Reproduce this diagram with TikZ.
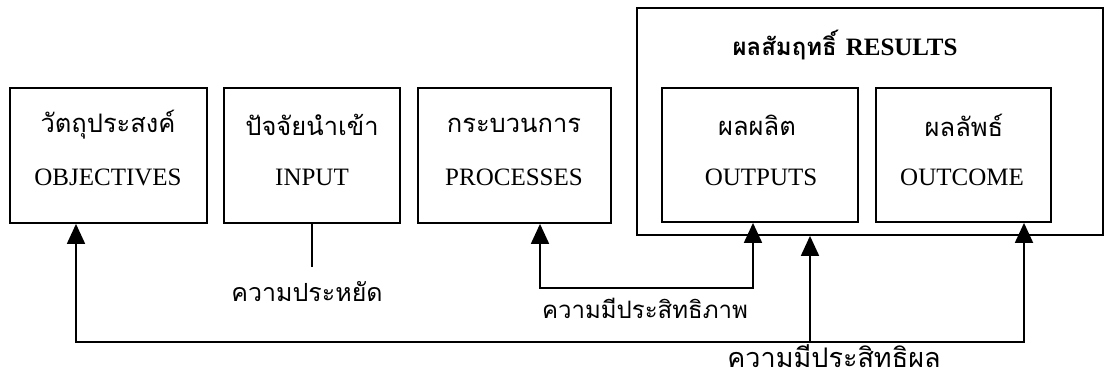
\documentclass[tikz,border=0pt]{standalone}
\usepackage{fontspec}
\setmainfont{Liberation Serif}
\newfontfamily\thaifont[Script=Thai]{Loma}
\usetikzlibrary{arrows.meta}
\begin{document}
\begin{tikzpicture}[x=1pt,y=-1pt,
  box/.style={draw=black,line width=1.8pt,inner sep=0pt},
  th/.style={font=\thaifont\fontsize{25.5}{28}\selectfont,inner sep=0pt},
  en/.style={font=\fontsize{25}{28}\selectfont,inner sep=0pt},
  lnk/.style={draw=black,line width=1.8pt},
  arr/.style={lnk,-{Triangle[length=20pt,width=18pt]}}]
\useasboundingbox (0,0) rectangle (1106,379);
% boxes
\node[box,minimum width=197pt,minimum height=135pt] (obj) at (108.5,155.5) {};
\node[box,minimum width=176pt,minimum height=135pt] (inp) at (312,155.5) {};
\node[box,minimum width=193pt,minimum height=135pt] (proc) at (514.5,155.5) {};
\node[box,minimum width=466pt,minimum height=227pt] (res) at (870,121.5) {};
\node[box,minimum width=196pt,minimum height=134pt] (outp) at (760,155) {};
\node[box,minimum width=175pt,minimum height=134pt] (outc) at (963.5,155) {};
% texts
\node[th] (objT) at (108,125) {วัตถุประสงค์};
\node[en] (objE) at (108,177) {OBJECTIVES};
\node[th] (inpT) at (312,125) {ปัจจัยนำเข้า};
\node[en] (inpE) at (312,177) {INPUT};
\node[th] (procT) at (514,125) {กระบวนการ};
\node[en] (procE) at (514,177) {PROCESSES};
\node[th] (outpT) at (757,125) {ผลผลิต};
\node[en] (outpE) at (761,177) {OUTPUTS};
\node[th] (outcT) at (964,125) {ผลลัพธ์};
\node[en] (outcE) at (962,177) {OUTCOME};
\node[inner sep=0pt] (resT) at (845,45) {{\thaifont\bfseries\fontsize{24}{28}\selectfont ผลสัมฤทธิ์}\hspace{9pt}{\bfseries\fontsize{25}{28}\selectfont RESULTS}};
% connectors
\coordinate (ie) at (312,267);
\draw[lnk] (inp.south) -- (ie);
\node[th,font=\thaifont\fontsize{25}{28}\selectfont] (eco) at (307,292) {ความประหยัด};
\coordinate (p1) at (540,288);
\coordinate (p2) at (753,288);
\draw[arr] (p2) -- (p1) -- (proc.south -| p1);
\draw[arr] (p1) -- (p2) -- (outp.south -| p2);
\node[th,font=\thaifont\fontsize{24}{28}\selectfont] (eff) at (645,308) {ความมีประสิทธิภาพ};
\coordinate (b1) at (76,342);
\coordinate (b2) at (1024,342);
\coordinate (b3) at (810,342);
\draw[arr] (b2) -- (b1) -- (obj.south -| b1);
\draw[arr] (b1) -- (b2) -- (outc.south -| b2);
\draw[arr] (b3) -- (res.south -| b3);
\node[th,font=\thaifont\fontsize{27}{29}\selectfont,anchor=base] (efc) at (834,367) {ความมีประสิทธิผล};
\end{tikzpicture}
\end{document}
